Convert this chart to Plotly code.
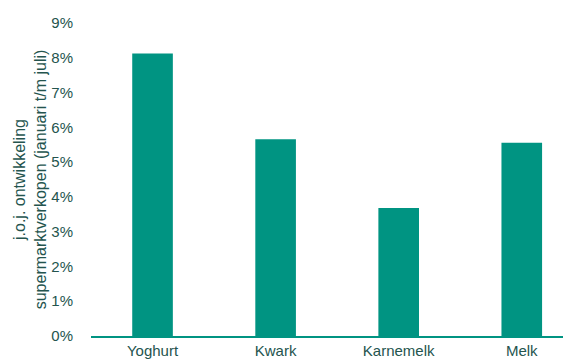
import plotly.graph_objects as go

categories = ["Yoghurt", "Kwark", "Karnemelk", "Melk"]
values = [0.0812, 0.0566, 0.0368, 0.0556]
tick_vals = [i / 100 for i in range(10)]
tick_text = [f"{i}%" for i in range(10)]

bar_color = "#009482"
text_color = "#24544e"

fig = go.Figure(go.Bar(x=categories, y=values, marker=dict(color=bar_color, line=dict(width=0)), width=0.33))

# page body has an 8px margin, so the figure is offset by 8px
fig.update_layout(
    width=563, height=354,
    margin=dict(l=83, r=0, t=15, b=26),
    paper_bgcolor="white", plot_bgcolor="white",
    font=dict(family="Liberation Sans, Arial, sans-serif", size=15, color=text_color),
    showlegend=False,
)
fig.update_xaxes(
    range=[-0.5, 3.4], showgrid=False, showline=True, linecolor=bar_color, linewidth=1.5,
    ticks="", tickfont=dict(size=15, color=text_color), automargin=False,
)
fig.update_yaxes(
    range=[0, 0.09], tickvals=tick_vals, ticktext=tick_text, showgrid=False,
    showline=False, zeroline=False, ticks="outside", ticklen=14, tickcolor="rgba(0,0,0,0)",
    tickfont=dict(size=15, color=text_color), automargin=False,
    title=dict(text="j.o.j. ontwikkeling<br>supermarktverkopen (januari t/m juli)",
               font=dict(size=16, color=text_color), standoff=0),
)
fig.write_html("out.html")
